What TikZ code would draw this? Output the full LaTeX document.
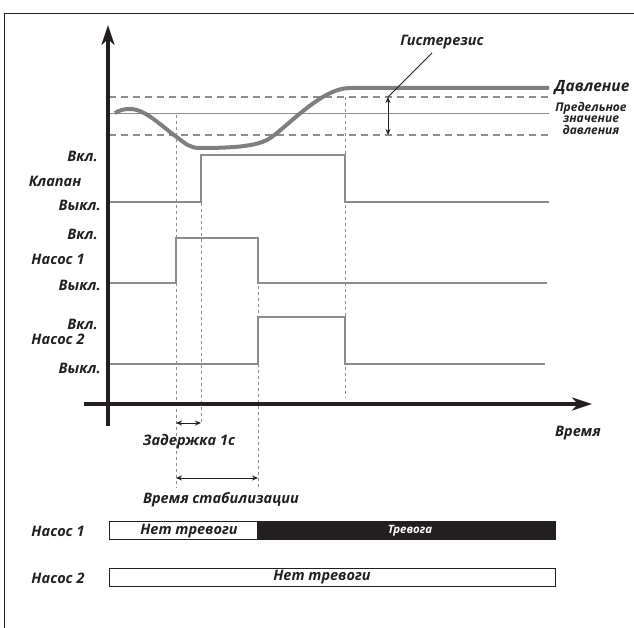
\documentclass[tikz,border=0pt]{standalone}
\usepackage{fontspec}
\setmainfont{Open Sans}
\usetikzlibrary{arrows.meta}
\definecolor{ln}{HTML}{8C8C8C}
\definecolor{pr}{HTML}{7F7F7F}
\definecolor{ink}{HTML}{231F20}
\begin{document}
\begin{tikzpicture}[x=1pt,y=-1pt,
 lbl/.style={font=\bfseries\itshape\fontsize{14.5}{16}\selectfont, text=ink, inner sep=0pt},
 small/.style={font=\bfseries\itshape\fontsize{12}{11.5}\selectfont, text=ink, inner sep=0pt, align=center},
 sig/.style={draw=ln, line width=1.8pt},
 thr/.style={draw=ln, line width=1.6pt, dash pattern=on 7pt off 5pt},
 vd/.style={draw=ln, line width=1pt, dash pattern=on 3pt off 3pt},
 axis/.style={draw=ink, line width=3.5pt, -{Stealth[length=20pt,width=13pt,inset=6pt]}},
 dim/.style={draw=ink, line width=1pt, {Stealth[length=6pt,width=5pt]}-{Stealth[length=6pt,width=5pt]}}]
\useasboundingbox (0,0) rectangle (634,628);
% frame
\draw[ink, line width=1pt] (4.5,628) -- (4.5,14) -- (634,14);
% vertical guides
\coordinate (g1t) at (176,115); \coordinate (g1b) at (176,488);
\coordinate (g2t) at (201,155); \coordinate (g2b) at (201,425);
\coordinate (g3t) at (258,238); \coordinate (g3b) at (258,488);
\coordinate (g4t) at (345,97);  \coordinate (g4b) at (345,398);
\draw[vd] (g1t) -- (g1b);
\draw[vd] (g2t) -- (g2b);
\draw[vd] (g3t) -- (g3b);
\draw[vd] (g4t) -- (g4b);
% thresholds
\draw[thr] (109,97) -- (549,97);
\draw[thr] (109,135) -- (549,135);
\draw[draw=ln, line width=1pt] (109,114) -- (549,114);
% pressure
\draw[draw=pr, line width=4pt] (115,113) .. controls (120,110) and (124,109) .. (130,109)
  .. controls (145,109) and (160,125) .. (178,138)
  .. controls (186,144) and (190,148) .. (200,148)
  .. controls (235,148) and (255,146) .. (267,140)
  .. controls (285,130) and (320,88) .. (350,88) -- (549,88);
% signals
\draw[sig] (110,202) -- (201,202) -- (201,155) -- (345,155) -- (345,202) -- (549,202);
\draw[sig] (110,283) -- (176,283) -- (176,238) -- (258,238) -- (258,283) -- (547,283);
\draw[sig] (110,364) -- (258,364) -- (258,317) -- (345,317) -- (345,364) -- (545,364);
% axes
\coordinate (yb) at (108,426); \coordinate (yt) at (108,25);
\coordinate (xl) at (84,404); \coordinate (xr) at (592,404);
\draw[axis] (yb) -- (yt);
\draw[axis] (xl) -- (xr);
% hysteresis
\coordinate (h1) at (388,97); \coordinate (h2) at (388,135);
\draw[dim] (h1) -- (h2);
\node[lbl] (hyst) at (442,42) {Гистерезис};
\draw[ink, line width=0.8pt] (h1) -- (432,53);
\node[lbl, font=\bfseries\itshape\fontsize{15.5}{16}\selectfont] (pres) at (592,88) {Давление};
\node[small] (lim) at (591,118) {Предельное\\значение\\давления};
% left labels
\node[lbl, anchor=east] (v1) at (98,156) {Вкл.};
\node[lbl] (valve) at (55,181) {Клапан};
\node[lbl, anchor=east] (v0) at (101,205) {Выкл.};
\node[lbl, anchor=east] (p1on) at (98,234) {Вкл.};
\node[lbl] (pump1) at (58,259) {Насос 1};
\node[lbl, anchor=east] (p1off) at (101,285) {Выкл.};
\node[lbl, anchor=east] (p2on) at (98,324) {Вкл.};
\node[lbl] (pump2) at (58,339) {Насос 2};
\node[lbl, anchor=east] (p2off) at (101,368) {Выкл.};
\node[lbl] (time) at (578,433) {Время};
% intervals
\coordinate (d1) at (176,423); \coordinate (d2) at (201,423);
\draw[dim] (d1) -- (d2);
\node[lbl] (delay) at (189,442) {Задержка 1с};
\coordinate (s1) at (176,478); \coordinate (s2) at (258,478);
\draw[dim] (s1) -- (s2);
\node[lbl] (stab) at (221,500) {Время стабилизации};
% alarm bars
\node[lbl] (b1l) at (58,531) {Насос 1};
\fill[ink] (257,521) rectangle (555,539);
\draw[ink, line width=1pt] (109,521) rectangle (555,539);
\node[lbl] (b1a) at (189,531) {Нет тревоги};
\node[small, text=white, font=\bfseries\itshape\fontsize{11.5}{12}\selectfont] (b1b) at (410,531) {Тревога};
\node[lbl] (b2l) at (58,578) {Насос 2};
\draw[ink, line width=1pt] (109,568) rectangle (555,586);
\node[lbl] (b2a) at (322,577) {Нет тревоги};
\end{tikzpicture}
\end{document}
